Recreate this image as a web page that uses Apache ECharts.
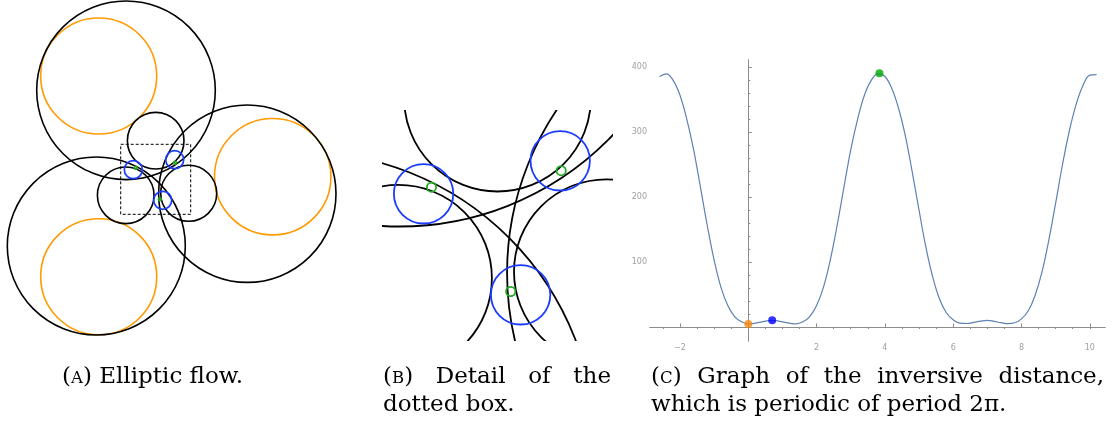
<!DOCTYPE html>
<html>
<head>
<meta charset="utf-8">
<title>Elliptic flow</title>
<script src="https://cdn.jsdelivr.net/npm/echarts@6/dist/echarts.min.js"></script>
<style>
  html, body { margin: 0; padding: 0; background: #fff; }
  #fig { width: 1118px; height: 427px; }
</style>
</head>
<body>
<div id="fig"></div>
<script>
// circles of panel A: [cx, cy, r], origin at the centre of symmetry, y up
const bigCircles = [[-30.7, 86.1, 89.3], [-60.4, -69.6, 89], [90.6, -17.3, 88.7]];
const orangeCircles = [[-58, 100.4, 58], [-58, -100.3, 58], [116, -0.3, 58.2]];
const smallCircles = [[-1, 35.7, 28.3], [-31, -18.9, 28.3], [32, -16.9, 28]];
const blueCircles = [[-23.4, 6.7, 9], [18, 16.7, 9], [6, -23.9, 9]];
const greenCircles = [[-21, 8.7, 1.4], [18.3, 13.7, 1.4], [3, -22.9, 1.4]];
// dotted box: [x0, y0, x1, y1]
const detailBox = [-36, -37.9, 34, 32.1];

// panel C: inversive distance against angle
const theta = [-2.6, -2.4, -2.2, -2.0, -1.8, -1.6, -1.4, -1.2, -1.0, -0.8, -0.6, -0.4, -0.2,
  0.0, 0.2, 0.4, 0.6, 0.8, 1.0, 1.2, 1.4, 1.6, 1.8, 2.0, 2.2, 2.4, 2.6, 2.8, 3.0, 3.2, 3.4,
  3.6, 3.8, 4.0, 4.2, 4.4, 4.6, 4.8, 5.0, 5.2, 5.4, 5.6, 5.8, 6.0, 6.2, 6.4, 6.6, 6.8, 7.0,
  7.2, 7.4, 7.6, 7.8, 8.0, 8.2, 8.4, 8.6, 8.8, 9.0, 9.2, 9.4, 9.6, 9.8, 10.0, 10.2];
const inversiveDist = [386, 390, 380, 357, 320, 273, 215, 156, 103, 61, 33, 16, 8,
  4.9, 5.9, 7.9, 9.7, 9.7, 7.9, 5.9, 4.9, 8, 16, 33, 61, 103, 156, 215, 273, 320, 357,
  380, 390, 386, 368, 337, 294, 239, 180, 123, 77, 43, 22, 11, 5.8, 5.4, 7.1, 9.1, 10.3,
  8.7, 6.7, 5.2, 6.5, 12.5, 25, 49, 85, 134, 191, 250, 302, 343, 372, 388, 389];
const markTheta = [0, 0.70, 3.84];
const markDist = [4.6, 10.3, 391];
const markColors = ['#f7890f', '#0000ff', '#00a800'];

const xLabels = [-2, 2, 4, 6, 8, 10];
const xMinorTicks = [-2.5, -1.5, -1, -0.5, 0.5, 1, 1.5, 2.5, 3, 3.5, 4.5, 5, 5.5, 6.5, 7, 7.5, 8.5, 9, 9.5, 10];
const yLabels = [100, 200, 300, 400];
const yMinorTicks = [20, 40, 60, 80, 120, 140, 160, 180, 220, 240, 260, 280, 320, 340, 360, 380];

const myChart = echarts.init(document.getElementById('fig'));

// one custom series of circles; gridIdx 1 is the zoomed detail, clipped to its box
function ringSeries(data, color, gridIdx, width) {
    return {
        type: 'custom',
        xAxisIndex: gridIdx,
        yAxisIndex: gridIdx,
        clip: gridIdx === 1,
        silent: true,
        data: data,
        renderItem: function (params, api) {
            const c = api.coord([api.value(0), api.value(1)]);
            const r = api.size([api.value(2), 0])[0];
            return {
                type: 'circle',
                shape: { cx: c[0], cy: c[1], r: r },
                style: { fill: 'none', stroke: color, lineWidth: width }
            };
        }
    };
}

// caption text, word by word so that lines can be justified like LaTeX does
const capFont = 'DejaVu Serif';
const capSize = 23;
const measureCtx = document.createElement('canvas').getContext('2d');
function textWidth(t, size) {
    measureCtx.font = size + 'px "' + capFont + '"';
    return measureCtx.measureText(t).width;
}
function captionLine(words, x0, y, x1) {
    const pieces = words.map(function (wd) {
        const m = wd.match(/^\((\w)\)$/);
        return m ? [['(', capSize], [m[1], capSize * 0.72], [')', capSize]] : [[wd, capSize]];
    });
    const widths = pieces.map(function (p) {
        return p.reduce(function (s, q) { return s + textWidth(q[0], q[1]); }, 0);
    });
    const total = widths.reduce(function (a, b) { return a + b; }, 0);
    const gap = (x1 != null && words.length > 1) ? (x1 - x0 - total) / (words.length - 1) : textWidth(' ', capSize);
    const out = [];
    let x = x0;
    pieces.forEach(function (p) {
        p.forEach(function (q) {
            out.push({
                type: 'text',
                x: x,
                y: y + (capSize - q[1]) * 0.3,
                silent: true,
                style: {
                    text: q[0], fontSize: q[1], fontFamily: capFont, fill: '#000',
                    verticalAlign: 'middle', textVerticalAlign: 'middle'
                }
            });
            x += textWidth(q[0], q[1]);
        });
        x += gap;
    });
    return out;
}

const hiddenAxis = { type: 'value', show: false, splitLine: { show: false } };
const minus = function (v) { return v < 0 ? '\u2212' + (-v) : String(v); };
const axisGray = '#8c8c8c';
const labelStyle = { fontSize: 8, color: '#a0a0a0', fontFamily: 'DejaVu Sans' };

let option = {
    animation: false,
    grid: [
        { left: 0, top: 0, width: 350, height: 350, outerBoundsMode: 'none' },
        { left: 382, top: 110, width: 231, height: 231, outerBoundsMode: 'none' },
        { left: 650, top: 60, width: 455, height: 281, outerBoundsMode: 'none' }
    ],
    xAxis: [
        Object.assign({}, hiddenAxis, { gridIndex: 0, min: -156.7, max: 193.3 }),
        Object.assign({}, hiddenAxis, { gridIndex: 1, min: detailBox[0], max: detailBox[2] }),
        {
            type: 'value', gridIndex: 2, min: -2.878, max: 10.445,
            axisLine: { onZero: true, lineStyle: { color: axisGray, width: 1 } },
            axisTick: { inside: true, length: 3.5, customValues: xLabels, lineStyle: { color: axisGray } },
            axisLabel: Object.assign({ customValues: xLabels, formatter: minus, margin: 3 }, labelStyle),
            splitLine: { show: false }
        },
        {
            type: 'value', gridIndex: 2, min: -2.878, max: 10.445,
            axisLine: { onZero: true, lineStyle: { color: axisGray, width: 1 } },
            axisTick: { inside: true, length: 2, customValues: xMinorTicks, lineStyle: { color: axisGray } },
            axisLabel: { show: false },
            splitLine: { show: false }
        }
    ],
    yAxis: [
        Object.assign({}, hiddenAxis, { gridIndex: 0, min: -173.6, max: 176.4 }),
        Object.assign({}, hiddenAxis, { gridIndex: 1, min: detailBox[1], max: detailBox[3] }),
        {
            type: 'value', gridIndex: 2, position: 'left', min: -21.6, max: 411.4,
            axisLine: { onZero: true, lineStyle: { color: axisGray, width: 1 } },
            axisTick: { inside: true, length: 3.5, customValues: yLabels, lineStyle: { color: axisGray } },
            axisLabel: Object.assign({ customValues: yLabels, margin: 3 }, labelStyle),
            splitLine: { show: false }
        },
        {
            type: 'value', gridIndex: 2, position: 'left', min: -21.6, max: 411.4,
            axisLine: { onZero: true, lineStyle: { color: axisGray, width: 1 } },
            axisTick: { inside: true, length: 2, customValues: yMinorTicks, lineStyle: { color: axisGray } },
            axisLabel: { show: false },
            splitLine: { show: false }
        }
    ],
    series: [
        // panel A
        ringSeries(orangeCircles, '#ff9a00', 0, 1.6),
        ringSeries(bigCircles, '#000', 0, 1.6),
        ringSeries(smallCircles, '#000', 0, 1.6),
        ringSeries(blueCircles, '#1a3cff', 0, 1.7),
        ringSeries(greenCircles, '#1faa1f', 0, 1.7),
        {
            type: 'custom', xAxisIndex: 0, yAxisIndex: 0, silent: true,
            data: [detailBox],
            renderItem: function (params, api) {
                const p0 = api.coord([api.value(0), api.value(1)]);
                const p1 = api.coord([api.value(2), api.value(3)]);
                return {
                    type: 'rect',
                    shape: {
                        x: Math.min(p0[0], p1[0]), y: Math.min(p0[1], p1[1]),
                        width: Math.abs(p1[0] - p0[0]), height: Math.abs(p1[1] - p0[1])
                    },
                    style: { fill: 'none', stroke: '#000', lineWidth: 1, lineDash: [3, 2] }
                };
            }
        },
        // panel B, same circles seen through the dotted box
        ringSeries(bigCircles, '#000', 1, 1.8),
        ringSeries(smallCircles, '#000', 1, 1.8),
        ringSeries(blueCircles, '#1a3cff', 1, 1.8),
        ringSeries(greenCircles, '#1faa1f', 1, 1.8),
        // panel C
        {
            type: 'line', xAxisIndex: 2, yAxisIndex: 2,
            data: theta.map(function (t, i) { return [t, inversiveDist[i]]; }),
            smooth: 0.4, showSymbol: false, silent: true,
            lineStyle: { color: '#5e81b5', width: 1.2 }
        },
        {
            type: 'scatter', xAxisIndex: 2, yAxisIndex: 2, symbolSize: 8, silent: true,
            data: markTheta.map(function (t, i) {
                return { value: [t, markDist[i]], itemStyle: { color: markColors[i] } };
            }),
            z: 5
        }
    ],
    graphic: [].concat(
        captionLine(['(A)', 'Elliptic', 'flow.'], 62, 377),
        captionLine(['(B)', 'Detail', 'of', 'the'], 383, 377, 611),
        captionLine(['dotted', 'box.'], 383, 405),
        captionLine(['(C)', 'Graph', 'of', 'the', 'inversive', 'distance,'], 651, 377, 1104),
        captionLine(['which', 'is', 'periodic', 'of', 'period', '2\u03c0.'], 651, 405)
    )
};

myChart.setOption(option);
</script>
</body>
</html>
